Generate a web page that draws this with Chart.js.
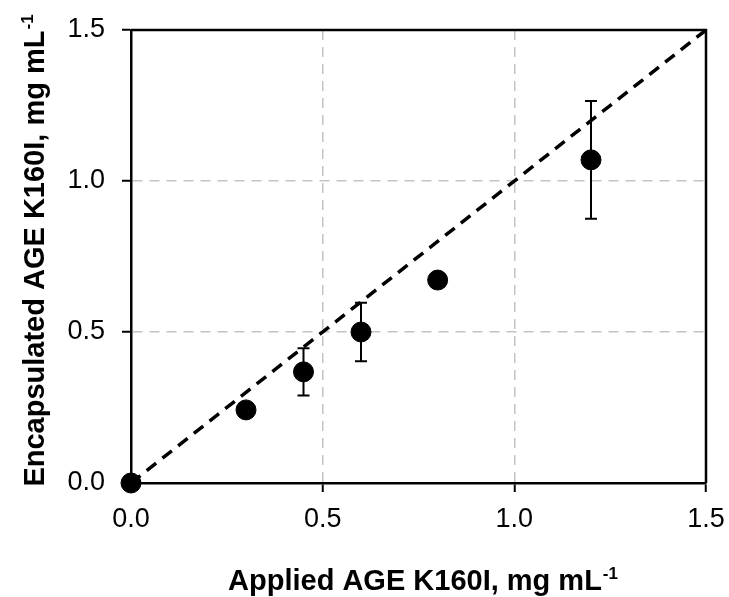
<!DOCTYPE html>
<html><head><meta charset="utf-8">
<script src="https://cdn.jsdelivr.net/npm/chart.js@4.4.1/dist/chart.umd.min.js"></script>
<style>html,body{margin:0;padding:0;background:#fff;} #wrap{width:729px;height:597px;position:relative;}</style>
</head><body><div id="wrap"><canvas id="c"></canvas></div>
<script>
// ---- data ----
const appliedX = [0, 0.3, 0.45, 0.6, 0.8, 1.2];
const encapsulatedY = [0, 0.242, 0.368, 0.50, 0.672, 1.07];
const errorY = [0, 0, 0.078, 0.097, 0, 0.195];
const identityX = [0, 1.5];
const identityY = [0, 1.5];
const tickValues = [0, 0.5, 1.0, 1.5];
const xTitle = 'Applied AGE K160I, mg mL';
const yTitle = 'Encapsulated AGE K160I, mg mL';
const titleSup = '-1';

const FONT = "'Liberation Sans', Arial, Helvetica, sans-serif";

const errorBarPlugin = {
  id: 'errorBars',
  beforeDatasetsDraw(chart) {
    const {ctx, scales: {x, y}} = chart;
    ctx.save();
    ctx.strokeStyle = '#000';
    ctx.lineWidth = 2;
    appliedX.forEach((xv, i) => {
      const e = errorY[i];
      if (!e) return;
      const px = x.getPixelForValue(xv);
      const top = y.getPixelForValue(encapsulatedY[i] + e);
      const bot = y.getPixelForValue(encapsulatedY[i] - e);
      ctx.beginPath();
      ctx.moveTo(px, top); ctx.lineTo(px, bot);
      ctx.moveTo(px - 6, top); ctx.lineTo(px + 6, top);
      ctx.moveTo(px - 6, bot); ctx.lineTo(px + 6, bot);
      ctx.stroke();
    });
    // top and right frame
    const a = chart.chartArea;
    ctx.lineWidth = 2.5;
    ctx.beginPath();
    ctx.moveTo(a.left, a.top); ctx.lineTo(a.right, a.top); ctx.lineTo(a.right, a.bottom);
    ctx.stroke();
    ctx.restore();
  }
};

function drawTitle(ctx, text, sup, cx, baseline, mainSize, supSize) {
  ctx.font = `bold ${mainSize}px ${FONT}`;
  const w1 = ctx.measureText(text).width;
  ctx.font = `bold ${supSize}px ${FONT}`;
  const w2 = ctx.measureText(sup).width;
  const start = cx - (w1 + w2) / 2;
  ctx.textAlign = 'left';
  ctx.textBaseline = 'alphabetic';
  ctx.fillStyle = '#000';
  ctx.font = `bold ${mainSize}px ${FONT}`;
  ctx.fillText(text, start, baseline);
  ctx.font = `bold ${supSize}px ${FONT}`;
  ctx.fillText(sup, start + w1 + 1, baseline - mainSize * 0.38);
}

const titlePlugin = {
  id: 'axisTitles',
  afterDraw(chart) {
    const {ctx, chartArea: a} = chart;
    ctx.save();
    drawTitle(ctx, xTitle, titleSup, (a.left + a.right) / 2 + 4, 590, 29, 17);
    ctx.restore();
    ctx.save();
    ctx.translate(44, 251);
    ctx.rotate(-Math.PI / 2);
    drawTitle(ctx, yTitle, titleSup, 0, 0, 29, 17);
    ctx.restore();
  }
};

const gridColor = (c) => (c.tick && (c.tick.value === 0 || c.tick.value === 1.5)) ? 'rgba(0,0,0,0)' : '#c4c4c4';

const axisCommon = {
  type: 'linear',
  min: 0,
  max: 1.5,
  afterBuildTicks: (s) => { s.ticks = tickValues.map(v => ({value: v})); },
  grid: {
    color: gridColor,
    lineWidth: 1.5,
    drawTicks: true,
    tickLength: 9,
    tickColor: '#000',
    tickWidth: 2,
    tickBorderDash: []
  },
  border: { display: true, color: '#000', width: 2.5, dash: [10, 7] },
  title: { display: false }
};

new Chart(document.getElementById('c'), {
  type: 'scatter',
  data: {
    datasets: [
      {
        label: 'Encapsulated',
        data: appliedX.map((v, i) => ({x: v, y: encapsulatedY[i]})),
        backgroundColor: '#000',
        borderColor: '#000',
        pointRadius: 10,
        pointHoverRadius: 10,
        clip: false
      },
      {
        type: 'line',
        label: 'Identity',
        data: identityX.map((v, i) => ({x: v, y: identityY[i]})),
        borderColor: '#000',
        borderWidth: 3.5,
        borderDash: [12, 8],
        pointRadius: 0,
        fill: false,
        clip: false
      }
    ]
  },
  options: {
    responsive: true,
    maintainAspectRatio: false,
    animation: false,
    devicePixelRatio: 1,
    layout: { padding: { top: 30, right: 23, left: 0, bottom: 0 } },
    plugins: { legend: { display: false }, tooltip: { enabled: false } },
    scales: {
      x: Object.assign({}, axisCommon, {
        position: 'bottom',
        ticks: { color: '#000', font: { family: FONT, size: 27 }, padding: 11, maxRotation: 0,
                 callback: (v) => Number(v).toFixed(1) },
        afterFit: (s) => { s.height = 114; s.paddingRight = 0; s.paddingLeft = 0; }
      }),
      y: Object.assign({}, axisCommon, {
        position: 'left',
        ticks: { color: '#000', font: { family: FONT, size: 27 }, padding: 17,
                 callback: (v) => Number(v).toFixed(1) },
        afterFit: (s) => { s.width = 131; s.paddingTop = 0; s.paddingBottom = 0; }
      })
    }
  },
  plugins: [errorBarPlugin, titlePlugin]
});
</script>
</body></html>
